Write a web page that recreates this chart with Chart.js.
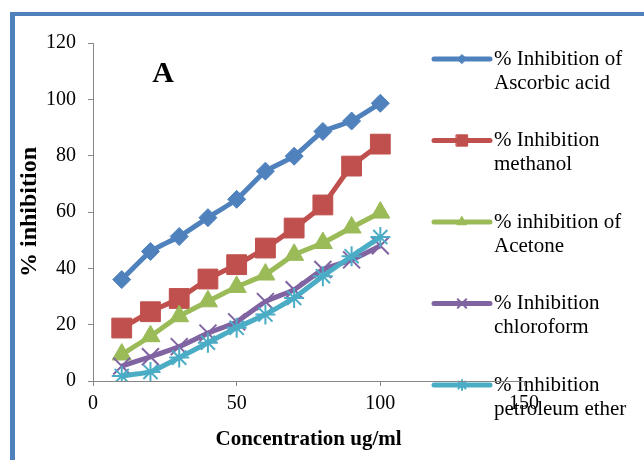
<!DOCTYPE html>
<html>
<head>
<meta charset="utf-8">
<script src="https://cdn.jsdelivr.net/npm/chart.js@4.4.1/dist/chart.umd.min.js"></script>
<style>
  html, body { margin: 0; padding: 0; background: #fff; }
  #wrap { position: relative; width: 644px; height: 460px; overflow: hidden; }
  #frame {
    position: absolute; left: 10px; top: 12px; right: -10px; bottom: -10px;
    border-left: 5px solid #4f81bd; border-top: 4px solid #4f81bd;
  }
  #chart { position: absolute; left: 0; top: 0; }
</style>
</head>
<body>
<div id="wrap">
  <div id="frame"></div>
  <canvas id="chart" width="644" height="460"></canvas>
</div>
<script>
/* DPPH inhibition vs concentration */

const concentrations = [10, 20, 30, 40, 50, 60, 70, 80, 90, 100];

const ascorbic = [36, 46, 51.3, 58, 64.5, 74.5, 79.8, 88.6, 92.3, 98.6];
const methanol = [18.8, 24.6, 29.3, 36.2, 41.3, 47.2, 54.3, 62.5, 76.3, 84.1];
const acetone = [9.4, 15.9, 23, 28.3, 33.4, 37.8, 44.8, 49, 54.5, 59.8];
const chloroform = [5.3, 8.6, 12.2, 17, 21, 28.2, 32.4, 39.6, 43, 48];
const petroleumEther = [1.8, 3.2, 8.3, 13.6, 18.9, 23.6, 29.5, 37.2, 44.3, 51.1];

const seriesNames = [
  ['% Inhibition of', 'Ascorbic acid'],
  ['% Inhibition', 'methanol'],
  ['% inhibition of', 'Acetone'],
  ['% Inhibition', 'chloroform'],
  ['% Inhibition', 'petroleum ether']
];

const xTicks = [0, 50, 100, 150];
const yTicks = [0, 20, 40, 60, 80, 100, 120];

const serif = "'Liberation Serif', 'Times New Roman', serif";
const axisGray = '#868686';

const seriesStyles = [
  { color: '#4f81bd', pointStyle: 'rectRot', radius: 9, legendRadius: 4.5, borderWidth: 1 },
  { color: '#c0504d', pointStyle: 'rect', radius: 14, legendRadius: 8, borderWidth: 1 },
  { color: '#9bbb59', pointStyle: 'triangle', radius: 11, legendRadius: 5.5, borderWidth: 1 },
  { color: '#8064a2', pointStyle: 'crossRot', radius: 12, legendRadius: 6, borderWidth: 2 },
  { color: '#4bacc6', pointStyle: 'star', radius: 10, legendRadius: 5, borderWidth: 2 }
];

const allSeries = [ascorbic, methanol, acetone, chloroform, petroleumEther];

function toPoints(values) {
  return values.map((v, i) => ({ x: concentrations[i], y: v }));
}

const datasets = allSeries.map((values, i) => {
  const s = seriesStyles[i];
  return {
    label: seriesNames[i].join(' '),
    data: toPoints(values),
    borderColor: s.color,
    backgroundColor: s.color,
    borderWidth: 5,
    tension: 0.15,
    pointStyle: s.pointStyle,
    pointRadius: s.radius,
    pointHoverRadius: s.radius,
    pointBorderWidth: s.borderWidth,
    pointBackgroundColor: s.color,
    pointBorderColor: s.color,
    order: allSeries.length - i
  };
});

// legend drawn by hand so it can sit on the right and wrap onto two lines
const sideLegend = {
  id: 'sideLegend',
  beforeDraw(chart, args, opts) {
    const ctx = chart.ctx;
    ctx.save();
    ctx.font = opts.fontSize + 'px ' + serif;
    ctx.textBaseline = 'middle';
    ctx.textAlign = 'left';
    seriesNames.forEach((lines, i) => {
      const s = seriesStyles[i];
      const y = opts.top + i * opts.step;
      ctx.strokeStyle = s.color;
      ctx.lineWidth = 5;
      ctx.lineCap = 'round';
      ctx.beginPath();
      ctx.moveTo(opts.lineStart, y);
      ctx.lineTo(opts.lineEnd, y);
      ctx.stroke();
      if (Chart.helpers && Chart.helpers.drawPoint) {
        ctx.fillStyle = s.color;
        ctx.lineWidth = s.borderWidth;
        Chart.helpers.drawPoint(ctx, {
          pointStyle: s.pointStyle, radius: s.legendRadius, rotation: 0, borderWidth: s.borderWidth
        }, (opts.lineStart + opts.lineEnd) / 2, y);
      }
      ctx.fillStyle = '#000';
      lines.forEach((t, j) => ctx.fillText(t, opts.textX, y + j * opts.lineGap));
    });
    ctx.restore();
  }
};

const panelLetter = {
  id: 'panelLetter',
  afterDraw(chart) {
    const ctx = chart.ctx;
    ctx.save();
    ctx.font = 'bold 30px ' + serif;
    ctx.fillStyle = '#000';
    ctx.textAlign = 'center';
    ctx.textBaseline = 'middle';
    ctx.fillText('A', 163, 74);
    ctx.restore();
  }
};

new Chart(document.getElementById('chart'), {
  type: 'line',
  data: { datasets },
  plugins: [sideLegend, panelLetter],
  options: {
    responsive: false,
    animation: false,
    devicePixelRatio: 1,
    layout: { padding: { left: 0, top: 43, right: 120, bottom: 0 } },
    plugins: {
      legend: { display: false },
      tooltip: { enabled: false },
      sideLegend: { top: 59, step: 81.5, lineGap: 24, lineStart: 434, lineEnd: 490, textX: 494, fontSize: 21 }
    },
    scales: {
      x: {
        type: 'linear',
        min: 0,
        max: 150,
        afterFit: s => { s.height = 79; },
        afterBuildTicks: s => { s.ticks = xTicks.map(v => ({ value: v })); },
        grid: { display: true, drawOnChartArea: false, drawTicks: true, tickLength: 5, color: axisGray },
        border: { display: true, color: axisGray, width: 1 },
        ticks: { color: '#000', padding: 6, font: { family: serif, size: 20 } },
        title: {
          display: true,
          text: 'Concentration ug/ml',
          color: '#000',
          padding: { bottom: 8, top: 0 },
          font: { family: serif, size: 21, weight: 'bold' }
        }
      },
      y: {
        min: 0,
        max: 120,
        afterFit: s => { s.width = 93; },
        afterBuildTicks: s => { s.ticks = yTicks.map(v => ({ value: v })); },
        grid: { display: true, drawOnChartArea: false, drawTicks: true, tickLength: 5, color: axisGray },
        border: { display: true, color: axisGray, width: 1 },
        ticks: { color: '#000', padding: 12, font: { family: serif, size: 20 } },
        title: {
          display: true,
          text: '% inhibition',
          color: '#000',
          padding: { top: 15, bottom: 0 },
          font: { family: serif, size: 24, weight: 'bold' }
        }
      }
    }
  }
});
</script>
</body>
</html>
